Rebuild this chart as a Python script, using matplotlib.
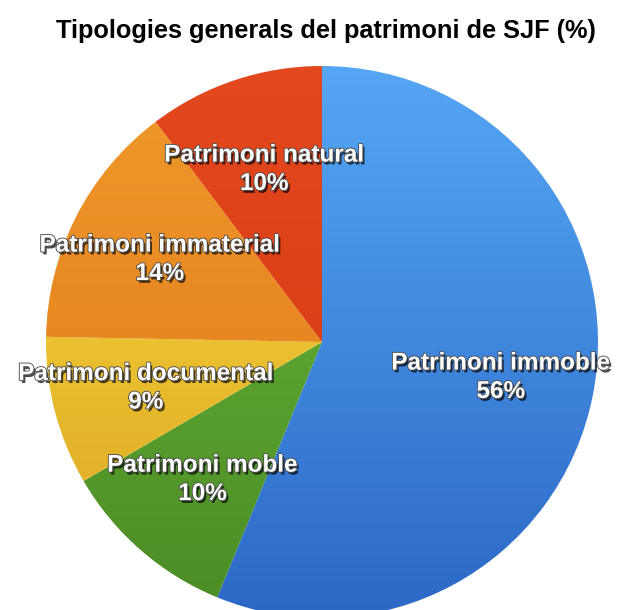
import numpy as np
import matplotlib.pyplot as plt
import matplotlib.patheffects as pe
from matplotlib.colors import LinearSegmentedColormap

# Data (clockwise from the top)
categories = ["Patrimoni immoble", "Patrimoni moble", "Patrimoni documental",
              "Patrimoni immaterial", "Patrimoni natural"]
values = [56.2, 10.4, 8.7, 14.4, 10.3]

# gradient colours per slice: (top, bottom)
top_colors = ["#55a6f4", "#6ab83c", "#f8df3e", "#f09a2c", "#e4481e"]
bottom_colors = ["#2c68c6", "#4c8c26", "#dca324", "#de7416", "#d2360f"]

plt.rcParams['font.family'] = ['Liberation Sans', 'DejaVu Sans']

fig = plt.figure(figsize=(6.19, 6.10), dpi=100)
W, H = 619, 610
cx, cy, r = 322, 342, 276
ax = fig.add_axes([(cx - r) / W, (H - cy - r) / H, 2 * r / W, 2 * r / H])

wedges, texts = ax.pie(values, startangle=90, counterclock=False,
                       labels=None, radius=1.0)

for w, c0, c1 in zip(wedges, top_colors, bottom_colors):
    w.set_facecolor("none")
    w.set_edgecolor("none")
    cmap = LinearSegmentedColormap.from_list("g", [c1, c0])
    grad = np.linspace(0, 1, 256).reshape(-1, 1)
    im = ax.imshow(grad, cmap=cmap, extent=(-1, 1, -1, 1), origin="lower",
                   aspect="auto", zorder=1)
    im.set_clip_path(w)

ax.set_xlim(-1, 1)
ax.set_ylim(-1, 1)
ax.set_aspect("equal")
ax.axis("off")

# labels, white with a dark drop shadow
effects = [pe.SimplePatchShadow(offset=(1.5, -2), shadow_rgbFace="black", alpha=0.7),
           pe.withStroke(linewidth=1.3, foreground="#505050")]
total = sum(values)
angle = 90.0
for name, v in zip(categories, values):
    mid = np.deg2rad(angle - v / total * 180)
    angle -= v / total * 360
    x, y = 0.66 * np.cos(mid), 0.66 * np.sin(mid)
    ax.text(x, y, f"{name}\n{v:.0f}%", ha="center", va="center",
            fontsize=17.5, fontweight="bold", color="white",
            linespacing=1.3, zorder=5, path_effects=effects)

fig.text(0.527, 1 - 31 / H, "Tipologies generals del patrimoni de SJF (%)",
         ha="center", va="center", fontsize=18.3, fontweight="bold")

fig.savefig("out.png", dpi=100)
